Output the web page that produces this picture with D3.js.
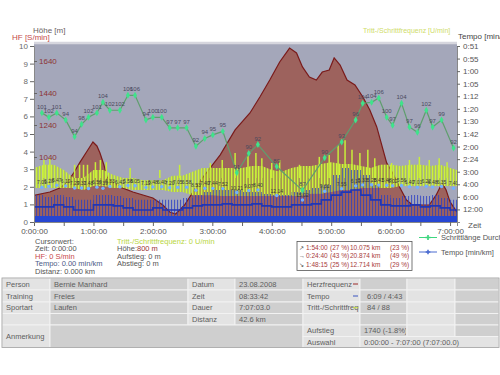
<!DOCTYPE html>
<html>
<head>
<meta charset="utf-8">
<script src="https://cdn.jsdelivr.net/npm/d3@7"></script>
<style>
  body { margin: 0; background: #fff; }
  svg { font-family: "Liberation Sans", Arial, sans-serif; }
</style>
</head>
<body>
<svg id="chart" width="500" height="375"></svg>
<script>
// Höhenprofil: Zeit [min] / Höhe [m]
const elevTime = [0, 16, 26, 33, 40, 46, 53, 59.5, 63.5, 66.6, 70.6, 73.6, 76.6, 86.7, 99.8, 120, 130, 137, 143, 147, 152,
  167, 188, 203, 218, 228, 238, 248, 258, 265, 271, 278, 285, 291, 298, 303, 309, 316, 324, 332, 339, 346,
  356, 362, 369, 376, 382, 399, 406, 412, 416, 420, 427];
const elevM = [800, 821, 846, 878, 940, 1003, 1071, 1134, 1109, 1065, 990, 915, 896, 853, 821, 784, 740, 696, 684, 709, 740,
  884, 1053, 1209, 1315, 1415, 1521, 1634, 1721, 1690, 1603, 1540, 1521, 1571, 1584, 1659, 1615, 1521, 1490, 1415, 1334, 1228,
  1003, 940, 853, 771, 740, 740, 803, 878, 834, 759, 696];

// je Kilometer: Zeit [min], Schrittlänge [m], Trittfrequenz-Beschriftung, Tempo (m.ss)
const lapTime = [8, 15, 23, 32, 41, 48, 55, 63.5, 69.6, 76.6, 86.7, 94.8, 102, 113, 120, 129, 137, 145, 154, 163.4, 172.4, 180.5,
  190.6, 204.7, 216.8, 226, 245, 271, 293.4, 310.6, 324.7, 331.8, 340.8, 348, 356, 362, 371, 379, 387, 396, 402.4, 411.4, 423.5];
const strideLen = [1.24, 1.19, 1.24, 1.16, 0.97, 1.11, 1.19, 1.24, 1.36, 1.27, 1.27, 1.44, 1.44, 1.16, 1.19, 1.19, 1.07, 1.07,
  1.07, 0.86, 0.95, 0.99, 1.03, 0.56, 0.78, 0.88, 0.63, 0.36, 0.73, 0.91, 1.16, 1.35, 1.36, 1.41, 1.19, 1.10, 1.35, 1.08, 1.02,
  1.27, 1.08, 1.16, 0.84];
const cadLabel = [101, 102, 101, 94, 94, 98, 102, 101, 104, 102, 102, 106, 106, 94, 100, 100, 97, 97, 97, 92, 94, 95, 95, 91,
  90, 92, 89, 87, 90, 93, 96, 104, 104, 106, 100, 97, 104, 97, 96, 102, 97, 99, 92];
const lapPace = [7.01, 6.28, 5.47, 6.12, 7.29, 7.31, 7.48, 6.59, 7.39, 6.33, 6.41, 5.58, 6.05, 7.12, 6.48, 6.40, 7.20, 7.05, 6.58,
  8.53, 7.40, 7.44, 7.52, 10.21, 9.07, 8.40, 12.14, 15.02, 9.31, 7.55, 6.10, 5.33, 5.28, 5.41, 5.48, 6.02, 5.56, 6.40, 7.01,
  6.22, 6.48, 6.35, 7.40];

// Trittfrequenz-Band (10-min Raster) [U/min]
const cadTime = [0, 10, 20, 30, 40, 50, 60, 70, 80, 90, 100, 110, 120, 130, 140, 150, 160, 170, 180, 190, 200, 210, 220, 230,
  240, 250, 260, 270, 280, 290, 300, 310, 320, 330, 340, 350, 360, 370, 380, 390, 400, 410, 420, 427];
const cadHi = [123, 130, 130, 118, 100, 100, 118, 118, 107, 100, 100, 95, 95, 95, 105, 105, 114, 123, 123, 123, 123, 123, 127,
  127, 118, 114, 123, 127, 127, 132, 136, 132, 132, 127, 123, 130, 130, 127, 130, 130, 127, 130, 123, 118];
const cadLo = [77, 77, 77, 77, 77, 73, 82, 82, 77, 77, 73, 73, 73, 73, 68, 68, 61, 61, 61, 59, 59, 59, 59, 59, 59, 59, 59, 59,
  64, 64, 68, 73, 73, 77, 77, 77, 77, 82, 82, 82, 82, 82, 82, 82];
const spikeTime = [10, 16, 41, 46, 50, 54, 62, 67, 73, 97, 127, 147, 178, 190, 203, 216, 224, 230, 240, 248, 268, 278, 288,
  298, 307, 314, 321, 329, 337, 344, 361, 379, 389, 399, 409, 417];
const spikeCad = [141, 145, 130, 130, 130, 130, 136, 141, 136, 123, 118, 130, 134, 141, 157, 152, 157, 145, 134, 141, 130, 123,
  148, 152, 175, 186, 164, 157, 164, 145, 134, 141, 148, 141, 145, 136];

// Tempo als Geschwindigkeit [km/h], gleiches Raster
const speedTime = [0, 10, 20, 30, 40, 50, 60, 70, 80, 90, 100, 110, 120, 130, 140, 150, 160, 170, 180, 190, 200, 210, 220, 230,
  240, 250, 260, 270, 280, 290, 300, 310, 320, 330, 340, 350, 360, 370, 380, 390, 400, 410, 420, 427];
const speedHi = [10.7, 9.9, 10.7, 9.9, 8.8, 8.8, 10.7, 10.7, 10.3, 9.5, 8.8, 8.8, 8.8, 8.8, 8.8, 9.5, 10.7, 11.9, 12.7, 12.7,
  12.7, 11.9, 11.9, 11.1, 10.7, 10.7, 11.9, 12.7, 13.5, 14.7, 18.7, 21.5, 20.7, 18.7, 14.7, 10.7, 9.5, 10.3, 10.7, 10.3, 10.7,
  9.5, 8.8, 8.0];
const speedMid = [6.0, 6.0, 6.8, 6.0, 4.8, 4.8, 6.8, 6.8, 6.4, 5.6, 4.8, 4.8, 5.6, 4.8, 4.8, 5.6, 6.4, 6.8, 6.8, 7.2, 6.8, 6.8,
  7.2, 6.4, 6.0, 6.0, 6.8, 6.8, 7.2, 8.8, 10.7, 11.9, 12.7, 10.7, 8.8, 6.8, 6.4, 6.4, 6.8, 6.0, 6.4, 5.6, 4.8, 4.0];
const pauseSpeed = 2.4;

// Achsen
const hfTicks = [0, 1, 2, 3, 4, 5, 6, 7, 8, 9, 10];
const elevTicks = [1040, 1240, 1440, 1640];
const speedTicks = [5, 10, 15, 20, 25, 30, 35, 40, 45, 50, 55, 60, 65, 70];
const paceLabels = ['12:00', '6:00', '4:00', '3:00', '2:24', '2:00', '1:42', '1:30', '1:20', '1:12', '1:05', '1:00', '0:55', '0:51'];
const timeTicks = [0, 30, 60, 90, 120, 150, 180, 210, 240, 270, 300, 330, 360, 390, 420];

const svg = d3.select('#chart');
const x = d3.scaleLinear().domain([0, 427]).range([34, 457]);
const yHF = d3.scaleLinear().domain([0, 10]).range([222, 46]);
const yElev = d3.scaleLinear().domain([1040, 1640]).range([157, 61]);
const ySpeed = d3.scaleLinear().domain([0, 70]).range([222, 46]);
const yStride = d3.scaleLinear().domain([0, 2]).range([222, 46]);
const yCad = d3.scaleLinear().domain([0, 400]).range([222, 46]);
const yLap = d3.scaleLinear().domain([5, 15]).range([184, 200]).clamp(true);

const fmtTime = t => `${Math.floor(t / 60)}:${String(t % 60).padStart(2, '0')}:00`;

//defs: clip + Muster
const defs = svg.append('defs');
defs.append('clipPath').attr('id', 'plotclip').append('rect')
  .attr('x', x(0)).attr('y', yHF(10) - 2)
  .attr('width', x(427) - x(0)).attr('height', yHF(0) - yHF(10) + 2);
const limePat = defs.append('pattern').attr('id', 'lime').attr('patternUnits', 'userSpaceOnUse')
  .attr('width', 3).attr('height', 10);
limePat.append('rect').attr('x', 0).attr('width', 1.4).attr('height', 10).attr('fill', '#cdf23c');
limePat.append('rect').attr('x', 1.4).attr('width', 0.8).attr('height', 10).attr('fill', '#a6bf3c');
const bluePat = defs.append('pattern').attr('id', 'blue').attr('patternUnits', 'userSpaceOnUse')
  .attr('width', 3).attr('height', 10);
bluePat.append('rect').attr('x', 0).attr('width', 1.1).attr('height', 10).attr('fill', '#2a3ec4');

// Hintergrund Plotbereich
svg.append('rect')
  .attr('x', x(0)).attr('y', yHF(10) - 2)
  .attr('width', x(427) - x(0)).attr('height', yHF(0) - yHF(10) + 2)
  .attr('fill', '#a4a7ba');
svg.append('line')
  .attr('x1', x(0)).attr('x2', x(427)).attr('y1', yHF(10) - 3).attr('y2', yHF(10) - 3)
  .attr('stroke', '#d6d6de').attr('stroke-width', 2.5);

const g = svg.append('g').attr('clip-path', 'url(#plotclip)');

// Höhe
const elevData = elevTime.map((t, i) => ({ t, m: elevM[i] }));
g.append('path').datum(elevData)
  .attr('d', d3.area().x(d => x(d.t)).y0(yHF(0)).y1(d => yElev(d.m)))
  .attr('fill', '#9d625d');
g.append('path').datum(elevData)
  .attr('d', d3.line().x(d => x(d.t)).y(d => yElev(d.m)))
  .attr('fill', 'none').attr('stroke', '#7a1b1b').attr('stroke-width', 1.2);

// Trittfrequenz
const cadData = cadTime.map((t, i) => ({ t, lo: cadLo[i], hi: cadHi[i] }));
g.append('path').datum(cadData)
  .attr('d', d3.area().x(d => x(d.t)).y0(d => yCad(d.lo)).y1(d => yCad(d.hi)))
  .attr('fill', '#c4e444').attr('fill-opacity', 0.3);
g.append('path').datum(cadData)
  .attr('d', d3.area().x(d => x(d.t)).y0(d => yCad(d.lo)).y1(d => yCad(d.hi)))
  .attr('fill', 'url(#lime)');
g.selectAll('line.spike')
  .data(spikeTime.map((t, i) => ({ t, c: spikeCad[i] })))
  .enter().append('line').attr('class', 'spike')
  .attr('x1', d => x(d.t)).attr('x2', d => x(d.t))
  .attr('y1', yCad(100)).attr('y2', d => yCad(d.c))
  .attr('stroke', '#c8ee3a').attr('stroke-width', 1.5);

// Tempo
const spData = speedTime.map((t, i) => ({ t, hi: speedHi[i], mid: speedMid[i] }));
g.append('path').datum(spData)
  .attr('d', d3.area().curve(d3.curveStepAfter).x(d => x(d.t)).y0(ySpeed(0)).y1(d => ySpeed(d.hi)))
  .attr('fill', 'url(#blue)').attr('opacity', 0.75);
g.append('path').datum(spData)
  .attr('d', d3.line().curve(d3.curveStepAfter).x(d => x(d.t)).y(d => ySpeed(d.mid)))
  .attr('fill', 'none').attr('stroke', '#2036b6').attr('stroke-width', 1.6);
g.append('path').datum([{ t: 0 }, { t: 427 }])
  .attr('d', d3.area().x(d => x(d.t)).y0(ySpeed(0)).y1(ySpeed(pauseSpeed)))
  .attr('fill', '#2746d2');

// Runden-Tempo
const paceMin = v => { const m = Math.floor(v); return m + Math.round((v - m) * 100) / 60; };
const laps = lapTime.map((t, i) => ({ t, s: strideLen[i], c: cadLabel[i], p: lapPace[i] }));
g.selectAll('circle.lap').data(laps).enter().append('circle').attr('class', 'lap')
  .attr('cx', d => x(d.t)).attr('cy', d => yLap(paceMin(d.p))).attr('r', 1.7)
  .attr('fill', '#72b0ff');
g.selectAll('text.lap').data(laps).enter().append('text').attr('class', 'lap')
  .attr('x', d => x(d.t)).attr('y', d => yLap(paceMin(d.p)) - 3)
  .attr('text-anchor', 'middle').attr('font-size', 5).attr('fill', '#3a3a3a')
  .text(d => d.p.toFixed(2));

// Schrittlänge
g.append('path').datum(laps)
  .attr('d', d3.line().x(d => x(d.t)).y(d => yStride(d.s)))
  .attr('fill', 'none').attr('stroke', '#5f9e6e').attr('stroke-width', 1.2);
g.selectAll('path.mk').data(laps).enter().append('path').attr('class', 'mk')
  .attr('d', d3.symbol().type(d3.symbolDiamond).size(14))
  .attr('transform', d => `translate(${x(d.t)},${yStride(d.s)})`)
  .attr('fill', '#3fe38b');
g.selectAll('text.cad').data(laps).enter().append('text').attr('class', 'cad')
  .attr('x', d => x(d.t)).attr('y', d => yStride(d.s) - 4)
  .attr('text-anchor', 'middle').attr('font-size', 6).attr('fill', '#4a4a5e')
  .text(d => d.c);

// Achsen
function styleAxis(sel, color) {
  sel.attr('font-family', null);
  sel.selectAll('text').attr('font-size', 8).attr('fill', color);
  sel.selectAll('line').attr('stroke', '#666');
  sel.select('.domain').attr('stroke', '#888');
}
svg.append('g').attr('transform', `translate(0,${yHF(0)})`)
  .call(d3.axisBottom(x).tickValues(timeTicks).tickSize(4).tickPadding(2)
    .tickFormat(t => t % 60 === 0 ? fmtTime(t) : ''))
  .call(s => styleAxis(s, '#555'));
svg.append('g').attr('transform', `translate(${x(0)},0)`)
  .call(d3.axisLeft(yHF).tickValues(hfTicks).tickSize(4).tickPadding(2))
  .call(s => styleAxis(s, '#6a6a6a'));
svg.append('g').attr('transform', `translate(${x(0)},0)`)
  .call(d3.axisRight(yElev).tickValues(elevTicks).tickSize(3).tickPadding(2).tickFormat(d3.format('d')))
  .call(s => { styleAxis(s, '#8c3434'); s.select('.domain').remove(); });
svg.append('g').attr('transform', `translate(${x(427)},0)`)
  .call(d3.axisRight(ySpeed).tickValues(speedTicks).tickSize(3).tickPadding(3)
    .tickFormat((d, i) => paceLabels[i]))
  .call(s => styleAxis(s, '#555'));

// Achsentitel
const label = (t, px, py, col, fs, anchor) => svg.append('text').attr('x', px).attr('y', py)
  .attr('font-size', fs || 8).attr('fill', col).attr('text-anchor', anchor || 'start').text(t);
label('Höhe  [m]', 33, 33, '#6a5e62');
label('HF [S/min]', 12, 40, '#c44a4a');
label('Tritt-/Schrittfrequenz [U/min]', 363, 33, '#cfdc6a', 7);
label('Tempo [min/km]', 458, 39, '#444');
label('Zeit', 468, 228, '#555');

// Cursorwerte
label('Cursorwert:', 35, 243.5, '#555', 7.5);
label('Zeit: 0:00:00', 35, 251, '#555', 7.5);
label('HF: 0 S/min', 35, 258.5, '#c84848', 7.5);
label('Tempo: 0.00 min/km', 35, 266, '#4c5a86', 7.5);
label('Distanz: 0.000 km', 35, 274, '#555', 7.5);
label('Tritt-/Schrittfrequenz: 0 U/min', 117, 243.5, '#b9d640', 7.5);
label('Höhe:', 117, 251, '#555', 7.5);
label('800 m', 137, 251, '#9a3232', 7.5);
label('Aufstieg: 0 m', 117, 258.5, '#555', 7.5);
label('Abstieg: 0 m', 117, 266, '#555', 7.5);

// Auf/Ab-Box
svg.append('rect').attr('x', 297).attr('y', 241.5).attr('width', 115).attr('height', 29)
  .attr('fill', '#fff').attr('stroke', '#555').attr('stroke-width', 0.8);
const boxRows = [
  ['↗', '1:54:00', '(27 %)', '10.075 km', '(23 %)'],
  ['→', '0:24:40', '(43 %)', '20.874 km', '(49 %)'],
  ['↘', '1:48:15', '(25 %)', '12.714 km', '(29 %)']
];
boxRows.forEach((r, i) => {
  const by = 249.5 + i * 8.6;
  label(r[0], 299, by, '#333', 6);
  label(r[1], 306, by, '#a83c3c', 6.5);
  label(r[2], 330, by, '#a83c3c', 6.5);
  label(r[3], 350, by, '#a83c3c', 6.5);
  label(r[4], 390, by, '#a83c3c', 6.5);
});

// Legende
svg.append('line').attr('x1', 419).attr('x2', 437).attr('y1', 237.5).attr('y2', 237.5)
  .attr('stroke', '#3fd67f').attr('stroke-width', 1);
svg.append('path').attr('d', d3.symbol().type(d3.symbolCross).size(14))
  .attr('transform', 'translate(428,237.5)').attr('fill', '#3fd67f');
label('Schrittlänge Durchschnitt', 441, 240, '#555', 7.5);
svg.append('line').attr('x1', 419).attr('x2', 437).attr('y1', 252).attr('y2', 252)
  .attr('stroke', '#4a6ad0').attr('stroke-width', 1);
svg.append('path').attr('d', d3.symbol().type(d3.symbolCross).size(12))
  .attr('transform', 'translate(428,252)').attr('fill', '#4a6ad0');
label('Tempo [min/km]', 441, 254.5, '#555', 7.5);

// Tabelle
const colX = [2, 50, 188, 235, 303, 360, 407, 455, 499];
const rowY = [278, 290, 302, 313.5, 325, 336.5, 347.5];
const LT = '#e3e3e3', DK = '#cfcfcf';
const cells = [
  [0, 1, 0, 1, LT, 'Person'], [1, 2, 0, 1, DK, 'Bernie Manhard'], [2, 3, 0, 1, LT, 'Datum'], [3, 4, 0, 1, DK, '23.08.2008'],
  [4, 5, 0, 1, LT, 'Herzfrequenz', '#9a2a2a'], [5, 6, 0, 1, DK, ''], [6, 7, 0, 1, LT, ''], [7, 8, 0, 1, DK, ''],
  [0, 1, 1, 2, LT, 'Training'], [1, 2, 1, 2, DK, 'Freies'], [2, 3, 1, 2, LT, 'Zeit'], [3, 4, 1, 2, DK, '08:33:42'],
  [4, 5, 1, 2, LT, 'Tempo', '#3a55c0'], [5, 6, 1, 2, DK, '6:09 / 4:43'], [6, 7, 1, 2, LT, ''], [7, 8, 1, 2, DK, ''],
  [0, 1, 2, 3, LT, 'Sportart'], [1, 2, 2, 3, DK, 'Laufen'], [2, 3, 2, 3, LT, 'Dauer'], [3, 4, 2, 3, DK, '7:07:03.0'],
  [4, 5, 2, 3, LT, 'Tritt-/Schrittfrequenz', '#c4e040'], [5, 6, 2, 3, DK, '84 / 88'], [6, 7, 2, 3, LT, ''], [7, 8, 2, 3, DK, ''],
  [0, 1, 3, 4, LT, ''], [1, 2, 3, 4, DK, ''], [2, 3, 3, 4, LT, 'Distanz'], [3, 4, 3, 4, DK, '42.6 km'],
  [4, 5, 3, 4, LT, ''], [5, 6, 3, 4, DK, ''], [6, 7, 3, 4, LT, ''], [7, 8, 3, 4, DK, ''],
  [0, 1, 4, 6, LT, 'Anmerkung'], [1, 4, 4, 6, DK, ''],
  [4, 5, 4, 5, LT, 'Aufstieg'], [5, 6, 4, 5, DK, '1740 (-1.8%)'], [6, 7, 4, 5, LT, ''], [7, 8, 4, 5, DK, ''],
  [4, 5, 5, 6, LT, 'Auswahl'], [5, 8, 5, 6, LT, '0:00:00 - 7:07:00 (7:07:00.0)']
];
const tbl = svg.append('g');
cells.forEach((c, k) => {
  const cx0 = colX[c[0]], cx1 = colX[c[1]], cy0 = rowY[c[2]], cy1 = rowY[c[3]];
  tbl.append('rect').attr('x', cx0).attr('y', cy0).attr('width', cx1 - cx0).attr('height', cy1 - cy0)
    .attr('fill', c[4]).attr('stroke', '#f2f2f2').attr('stroke-width', 1);
  if (c[5]) {
    defs.append('clipPath').attr('id', 'cell' + k).append('rect')
      .attr('x', cx0).attr('y', cy0).attr('width', cx1 - cx0 - 1).attr('height', cy1 - cy0);
    const tx = (c[0] === 5 && c[2] < 3) ? cx0 + 7 : cx0 + 4;
    tbl.append('g').attr('clip-path', `url(#cell${k})`)
      .append('text').attr('x', tx).attr('y', (cy0 + cy1) / 2 + 2.7)
      .attr('font-size', 7.5).attr('fill', '#5e5e5e').text(c[5]);
  }
  if (c[6]) {
    tbl.append('line').attr('x1', cx1 - 7).attr('x2', cx1 - 2)
      .attr('y1', (cy0 + cy1) / 2).attr('y2', (cy0 + cy1) / 2)
      .attr('stroke', c[6]).attr('stroke-width', 1);
  }
});
tbl.append('rect').attr('x', colX[0]).attr('y', rowY[0]).attr('width', colX[8] - colX[0]).attr('height', rowY[6] - rowY[0])
  .attr('fill', 'none').attr('stroke', '#a0a0a0').attr('stroke-width', 0.8);
</script>
</body>
</html>
